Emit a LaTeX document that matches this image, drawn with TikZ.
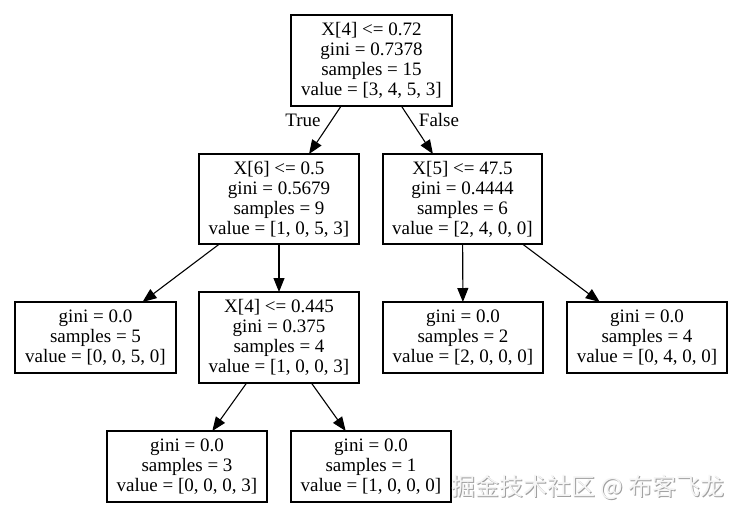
\documentclass[tikz,border=0pt]{standalone}
\usepackage{fontspec}
\setmainfont{Liberation Serif}
\newfontfamily\cjkfont{Noto Sans CJK SC}
\usetikzlibrary{arrows.meta}
\tikzset{
  treebox/.style={draw=black, line width=1.2pt, rectangle, align=center, inner sep=0pt, outer sep=0pt,
    minimum width=160pt, font=\fontsize{19}{20}\selectfont},
  splitbox/.style={treebox, minimum height=91pt},
  leafbox/.style={treebox, minimum height=71pt},
  edge/.style={draw=black, line width=1.1pt, -{Triangle[length=14pt, width=11pt]}},
  edgelabel/.style={font=\fontsize{19}{20}\selectfont, inner sep=0pt},
  watermark/.style={font=\cjkfont\fontsize{24}{26}\selectfont, inner sep=0pt}
}
\begin{document}
\begin{tikzpicture}[x=1pt, y=-1pt]
\useasboundingbox[fill=white] (0,0) rectangle (743,517);
\node[splitbox, minimum width=161pt] (root) at (371.5,60.5) {X[4] <= 0.72\\gini = 0.7378\\samples = 15\\value = [3, 4, 5, 3]};
\node[splitbox, minimum height=90pt] (n1) at (279,199) {X[6] <= 0.5\\gini = 0.5679\\samples = 9\\value = [1, 0, 5, 3]};
\node[splitbox, minimum height=90pt, minimum width=159pt] (n2) at (462.5,199) {X[5] <= 47.5\\gini = 0.4444\\samples = 6\\value = [2, 4, 0, 0]};
\node[leafbox, minimum width=161pt] (n3) at (95.5,337.5) {gini = 0.0\\samples = 5\\value = [0, 0, 5, 0]};
\node[splitbox] (n4) at (279,337.5) {X[4] <= 0.445\\gini = 0.375\\samples = 4\\value = [1, 0, 0, 3]};
\node[leafbox] (n5) at (463,337.5) {gini = 0.0\\samples = 2\\value = [2, 0, 0, 0]};
\node[leafbox] (n6) at (647,337.5) {gini = 0.0\\samples = 4\\value = [0, 4, 0, 0]};
\node[leafbox] (n7) at (187,466.5) {gini = 0.0\\samples = 3\\value = [0, 0, 0, 3]};
\node[leafbox] (n8) at (371,466.5) {gini = 0.0\\samples = 1\\value = [1, 0, 0, 0]};
\draw[edge] (root) -- (n1);
\draw[edge] (root) -- (n2);
\draw[edge] (n1) -- (n3);
\draw[edge] (n1) -- (n4);
\draw[edge] (n2) -- (n5);
\draw[edge] (n2) -- (n6);
\draw[edge] (n4) -- (n7);
\draw[edge] (n4) -- (n8);
\node[edgelabel] (ltrue) at (303,120) {True};
\node[edgelabel] (lfalse) at (439,120) {False};
\node[watermark, text=gray!75] (wmshadow) at (589,488) {掘金技术社区 @ 布客飞龙};
\node[watermark, text=gray!8] (wm) at (588,487) {掘金技术社区 @ 布客飞龙};
\end{tikzpicture}
\end{document}
